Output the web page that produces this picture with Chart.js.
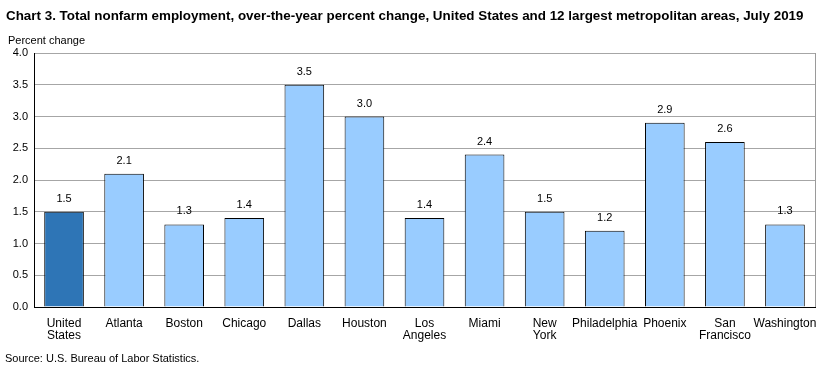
<!DOCTYPE html>
<html><head><meta charset="utf-8">
<script src="https://cdn.jsdelivr.net/npm/chart.js@4"></script>
<style>html,body{margin:0;padding:0;background:#fff}#w{position:relative;width:823px;height:371px}</style>
</head><body><div id="w"><canvas id="c" width="823" height="371"></canvas></div>
<script>
const titleText = "Chart 3. Total nonfarm employment, over-the-year percent change, United States and 12 largest metropolitan areas, July 2019";
const yAxisTitle = "Percent change";
const sourceText = "Source: U.S. Bureau of Labor Statistics.";
const categories = [["United","States"],"Atlanta","Boston","Chicago","Dallas","Houston",["Los","Angeles"],"Miami",["New","York"],"Philadelphia","Phoenix",["San","Francisco"],"Washington"];
const values = [1.5,2.1,1.3,1.4,3.5,3.0,1.4,2.4,1.5,1.2,2.9,2.6,1.3];
const yTicks = [0,0.5,1,1.5,2,2.5,3,3.5,4];
const colors = values.map((v,i)=> i===0 ? '#2E75B6' : '#99CCFF');
const FONT = '"Liberation Sans", Arial, sans-serif';

const textPlugin = {
  id:'texts',
  afterDraw(chart){
    const ctx = chart.ctx, ca = chart.chartArea;
    ctx.save();
    ctx.fillStyle = '#000';
    ctx.textBaseline = 'alphabetic';
    ctx.textAlign = 'left';
    ctx.font = 'bold 13.4px ' + FONT;
    ctx.fillText(titleText, 6, 20);
    ctx.font = '11px ' + FONT;
    ctx.fillText(yAxisTitle, 8, 44);
    ctx.fillText(sourceText, 5, 362);
    ctx.strokeStyle = '#9a9a9a';
    ctx.lineWidth = 1;
    ctx.beginPath();
    ctx.moveTo(Math.round(ca.right)+0.5, ca.top);
    ctx.lineTo(Math.round(ca.right)+0.5, ca.bottom);
    ctx.stroke();
    const meta = chart.getDatasetMeta(0);
    ctx.textAlign = 'center';
    ctx.font = '11px ' + FONT;
    meta.data.forEach((bar,i)=>{
      ctx.fillText(values[i].toFixed(1), bar.x, bar.y - 10);
    });
    ctx.restore();
  }
};

new Chart(document.getElementById('c'), {
  type:'bar',
  data:{labels:categories, datasets:[{data:values, backgroundColor:colors, borderColor:'#000', borderWidth:1, categoryPercentage:0.66, barPercentage:1}]},
  options:{
    responsive:false, animation:false,
    layout:{padding:{top:53,right:8,left:0,bottom:0}},
    plugins:{legend:{display:false},tooltip:{enabled:false}},
    scales:{
      x:{
        grid:{display:false},
        border:{color:'#000'},
        ticks:{color:'#000',font:{family:FONT,size:12,lineHeight:1},padding:3,maxRotation:0,autoSkip:false},
        afterFit(s){s.height=64;}
      },
      y:{
        min:0,max:4,
        afterBuildTicks(s){s.ticks = yTicks.map(v=>({value:v}));},
        grid:{color:'#a6a6a6',drawTicks:false},
        border:{color:'#000'},
        ticks:{color:'#000',font:{family:FONT,size:11},padding:6,callback:v=>v.toFixed(1)},
        afterFit(s){s.width=34;}
      }
    }
  },
  plugins:[textPlugin]
});
</script></body></html>
